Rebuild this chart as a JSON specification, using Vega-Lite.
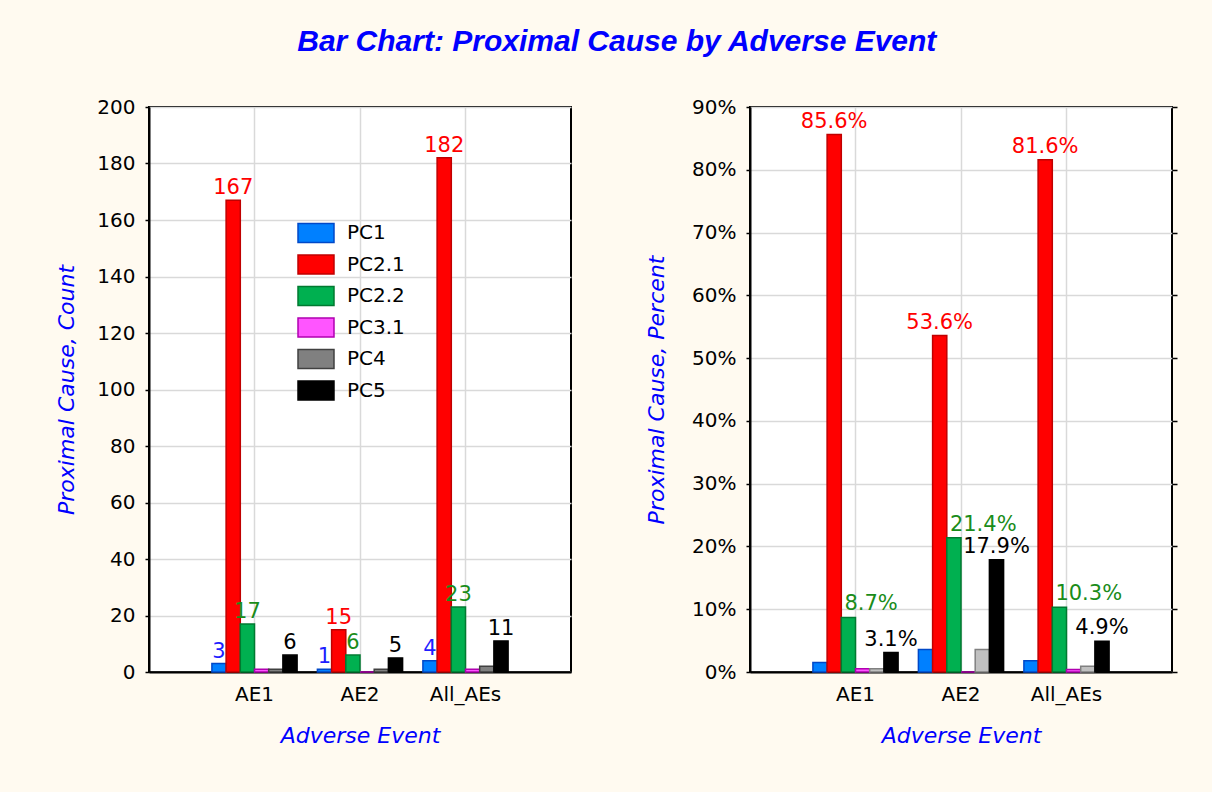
{
  "$schema": "https://vega.github.io/schema/vega-lite/v6.json",
  "background": "#FFFAF0",
  "padding": {"left": 54, "top": 27, "right": 35, "bottom": 45},
  "title": {
    "text": "Bar Chart: Proximal Cause by Adverse Event",
    "font": "Liberation Sans",
    "fontSize": 30,
    "fontStyle": "italic",
    "fontWeight": "bold",
    "color": "#0000FF",
    "anchor": "middle",
    "offset": 39
  },
  "datasets": {
    "pcs": [
      {"event": "AE1", "pc": "PC1", "count": 3, "pct": 0.015},
      {"event": "AE1", "pc": "PC2.1", "count": 167, "pct": 0.856},
      {"event": "AE1", "pc": "PC2.2", "count": 17, "pct": 0.087},
      {"event": "AE1", "pc": "PC3.1", "count": 1, "pct": 0.005},
      {"event": "AE1", "pc": "PC4", "count": 1, "pct": 0.005},
      {"event": "AE1", "pc": "PC5", "count": 6, "pct": 0.031},
      {"event": "AE2", "pc": "PC1", "count": 1, "pct": 0.036},
      {"event": "AE2", "pc": "PC2.1", "count": 15, "pct": 0.536},
      {"event": "AE2", "pc": "PC2.2", "count": 6, "pct": 0.214},
      {"event": "AE2", "pc": "PC3.1", "count": 0, "pct": 0.0},
      {"event": "AE2", "pc": "PC4", "count": 1, "pct": 0.036},
      {"event": "AE2", "pc": "PC5", "count": 5, "pct": 0.179},
      {"event": "All_AEs", "pc": "PC1", "count": 4, "pct": 0.018},
      {"event": "All_AEs", "pc": "PC2.1", "count": 182, "pct": 0.816},
      {"event": "All_AEs", "pc": "PC2.2", "count": 23, "pct": 0.103},
      {"event": "All_AEs", "pc": "PC3.1", "count": 1, "pct": 0.004},
      {"event": "All_AEs", "pc": "PC4", "count": 2, "pct": 0.009},
      {"event": "All_AEs", "pc": "PC5", "count": 11, "pct": 0.049}
    ]
  },
  "spacing": 72,
  "resolve": {
    "scale": {"y": "independent", "fill": "independent", "stroke": "independent", "color": "independent"},
    "legend": {"fill": "independent", "stroke": "independent", "color": "independent"}
  },
  "hconcat": [
    {
      "width": 422,
      "height": 565,
      "data": {"name": "pcs"},
      "encoding": {
        "x": {
          "field": "event", "type": "nominal", "sort": ["AE1", "AE2", "All_AEs"],
          "scale": {"paddingInner": 0, "paddingOuter": 0.5},
          "axis": {"title": "Adverse Event", "labelAngle": 0, "ticks": false, "labelPadding": 12, "titlePadding": 21, "grid": true, "bandPosition": 0.5}
        },
        "xOffset": {
          "field": "pc", "type": "nominal", "sort": ["PC1", "PC2.1", "PC2.2", "PC3.1", "PC4", "PC5"],
          "scale": {"paddingInner": 0, "paddingOuter": 0.715}
        },
        "y": {
          "field": "count", "type": "quantitative",
          "scale": {"domain": [0, 200]},
          "axis": {"title": "Proximal Cause, Count", "values": [0, 20, 40, 60, 80, 100, 120, 140, 160, 180, 200], "tickSize": 4, "labelPadding": 10, "titlePadding": 18}
        }
      },
      "layer": [
        {
          "mark": {"type": "bar", "strokeWidth": 1.5},
          "encoding": {
            "fill": {
              "field": "pc", "type": "nominal",
              "scale": {"domain": ["PC1", "PC2.1", "PC2.2", "PC3.1", "PC4", "PC5"], "range": ["#0080FF", "#FF0000", "#00B050", "#FF55FF", "#808080", "#000000"]},
              "legend": {
                "title": null, "orient": "none", "legendX": 155, "legendY": 114,
                "symbolType": "M-1.6,-0.85H1.6V0.85H-1.6Z", "symbolSize": 506, "symbolStrokeWidth": 1.5,
                "labelFont": "DejaVu Sans", "labelFontSize": 20, "labelColor": "black", "labelOffset": 19,
                "rowPadding": 5.5, "padding": 0
              }
            },
            "stroke": {
              "field": "pc", "type": "nominal",
              "scale": {"domain": ["PC1", "PC2.1", "PC2.2", "PC3.1", "PC4", "PC5"], "range": ["#0048C8", "#C00000", "#007A30", "#B000B0", "#404040", "#000000"]},
              "legend": {
                "title": null, "orient": "none", "legendX": 155, "legendY": 114,
                "symbolType": "M-1.6,-0.85H1.6V0.85H-1.6Z", "symbolSize": 506, "symbolStrokeWidth": 1.5,
                "labelFont": "DejaVu Sans", "labelFontSize": 20, "labelColor": "black", "labelOffset": 19,
                "rowPadding": 5.5, "padding": 0
              }
            }
          }
        },
        {
          "transform": [{"filter": {"field": "pc", "oneOf": ["PC1", "PC2.1", "PC2.2", "PC5"]}}],
          "mark": {"type": "text", "font": "DejaVu Sans", "fontSize": 21, "baseline": "alphabetic", "dy": -6},
          "encoding": {
            "text": {"field": "count", "type": "quantitative"},
            "color": {
              "field": "pc", "type": "nominal",
              "scale": {"domain": ["PC1", "PC2.1", "PC2.2", "PC5"], "range": ["#1E1EFF", "#FF0000", "#1A8C1A", "#000000"]},
              "legend": null
            }
          }
        }
      ]
    },
    {
      "width": 422,
      "height": 565,
      "data": {"name": "pcs"},
      "encoding": {
        "x": {
          "field": "event", "type": "nominal", "sort": ["AE1", "AE2", "All_AEs"],
          "scale": {"paddingInner": 0, "paddingOuter": 0.5},
          "axis": {"title": "Adverse Event", "labelAngle": 0, "ticks": false, "labelPadding": 12, "titlePadding": 21, "grid": true, "bandPosition": 0.5}
        },
        "xOffset": {
          "field": "pc", "type": "nominal", "sort": ["PC1", "PC2.1", "PC2.2", "PC3.1", "PC4", "PC5"],
          "scale": {"paddingInner": 0, "paddingOuter": 0.715}
        }
      },
      "resolve": {"axis": {"y": "independent"}},
      "layer": [
        {
          "mark": {"type": "bar", "strokeWidth": 1.5},
          "encoding": {
            "y": {
              "field": "pct", "type": "quantitative",
              "scale": {"domain": [0, 0.9]},
              "axis": {"title": "Proximal Cause, Percent", "format": ".0%", "values": [0, 0.1, 0.2, 0.3, 0.4, 0.5, 0.6, 0.7, 0.8, 0.9], "tickSize": 4, "labelPadding": 10, "titlePadding": 23}
            },
            "fill": {
              "field": "pc", "type": "nominal",
              "scale": {"domain": ["PC1", "PC2.1", "PC2.2", "PC3.1", "PC4", "PC5"], "range": ["#0080FF", "#FF0000", "#00B050", "#FF55FF", "#C0C0C0", "#000000"]},
              "legend": null
            },
            "stroke": {
              "field": "pc", "type": "nominal",
              "scale": {"domain": ["PC1", "PC2.1", "PC2.2", "PC3.1", "PC4", "PC5"], "range": ["#0048C8", "#C00000", "#007A30", "#B000B0", "#808080", "#000000"]},
              "legend": null
            }
          }
        },
        {
          "transform": [{"filter": {"field": "pc", "oneOf": ["PC2.1", "PC5"]}}],
          "mark": {"type": "text", "font": "DejaVu Sans", "fontSize": 21, "baseline": "alphabetic", "dy": -7},
          "encoding": {
            "y": {"field": "pct", "type": "quantitative", "axis": null},
            "text": {"field": "pct", "type": "quantitative", "format": ".1%"},
            "color": {
              "field": "pc", "type": "nominal",
              "scale": {"domain": ["PC2.1", "PC2.2", "PC5"], "range": ["#FF0000", "#1A8C1A", "#000000"]},
              "legend": null
            }
          }
        },
        {
          "transform": [{"filter": {"field": "pc", "oneOf": ["PC2.2"]}}],
          "mark": {"type": "text", "font": "DejaVu Sans", "fontSize": 21, "baseline": "alphabetic", "align": "left", "dx": -4, "dy": -7, "color": "#1A8C1A"},
          "encoding": {
            "y": {
              "field": "pct", "type": "quantitative",
              "axis": {"orient": "right", "title": null, "labels": false, "grid": false, "domain": false, "ticks": true, "tickSize": 5, "values": [0, 0.1, 0.2, 0.3, 0.4, 0.5, 0.6, 0.7, 0.8, 0.9]}
            },
            "text": {"field": "pct", "type": "quantitative", "format": ".1%"}
          }
        }
      ]
    }
  ],
  "config": {
    "font": "DejaVu Sans",
    "view": {"fill": "white", "stroke": "black", "strokeWidth": 2},
    "axis": {
      "labelFont": "DejaVu Sans", "labelFontSize": 20, "labelColor": "black",
      "titleFont": "DejaVu Sans", "titleFontSize": 22, "titleFontStyle": "italic", "titleFontWeight": "normal", "titleColor": "#0000FF",
      "gridColor": "#D9D9D9", "gridWidth": 1.5, "gridOpacity": 1,
      "domainColor": "black", "domainWidth": 2, "tickColor": "black", "tickWidth": 1.5
    }
  }
}
